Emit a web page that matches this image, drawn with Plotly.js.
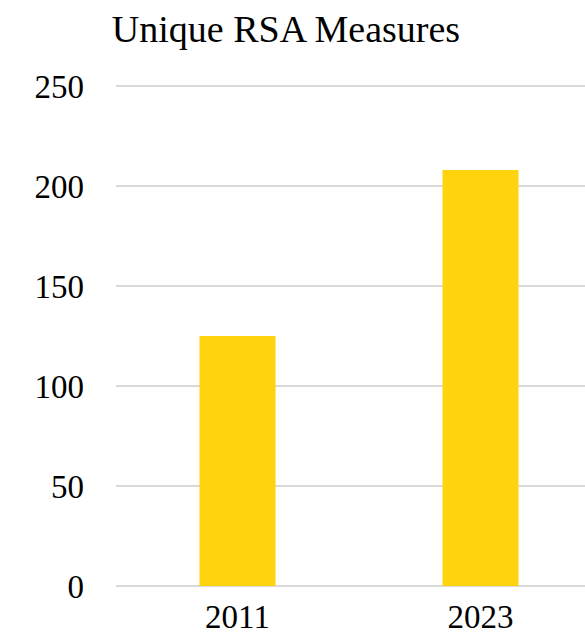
<!DOCTYPE html>
<html>
<head>
<meta charset="utf-8">
<script src="https://cdn.plot.ly/plotly-3.0.1.min.js"></script>
<style>
html,body{margin:0;padding:0;overflow:hidden;background:#fff;}
#chart{width:602px;height:634px;}
</style>
</head>
<body>
<div id="chart"></div>
<script>
const categories = ['2011', '2023'];
const values = [125, 208];
const yTicks = [0, 50, 100, 150, 200, 250];

const FONT = 'Liberation Serif';

const trace = {
  type: 'bar',
  x: categories,
  y: values,
  marker: {color: '#FFD30D'},
  hoverinfo: 'x+y'
};

const layout = {
  width: 602,
  height: 634,
  margin: {l: 115.5, r: 0, t: 84, b: 48},
  paper_bgcolor: '#ffffff',
  plot_bgcolor: '#ffffff',
  bargap: 0.687,
  showlegend: false,
  font: {family: FONT},
  title: {
    text: 'Unique RSA Measures',
    font: {family: FONT, size: 38, color: '#000'},
    xref: 'container', x: 0.475, xanchor: 'center',
    yref: 'container', y: 0.955, yanchor: 'middle'
  },
  xaxis: {
    type: 'category',
    tickfont: {family: FONT, size: 33, color: '#000'},
    showgrid: false,
    showline: false,
    ticks: '',
    ticklabelstandoff: 8
  },
  yaxis: {
    range: [0, 251],
    tickvals: yTicks,
    ticktext: yTicks.map(String),
    tickfont: {family: FONT, size: 33, color: '#000'},
    showgrid: true,
    gridcolor: '#d9d9d9',
    gridwidth: 1.5,
    zeroline: true,
    zerolinecolor: '#d9d9d9',
    zerolinewidth: 1.5,
    showline: false,
    ticks: '',
    ticklabelstandoff: 31
  }
};

Plotly.newPlot('chart', [trace], layout, {staticPlot: true, displayModeBar: false});
</script>
</body>
</html>
